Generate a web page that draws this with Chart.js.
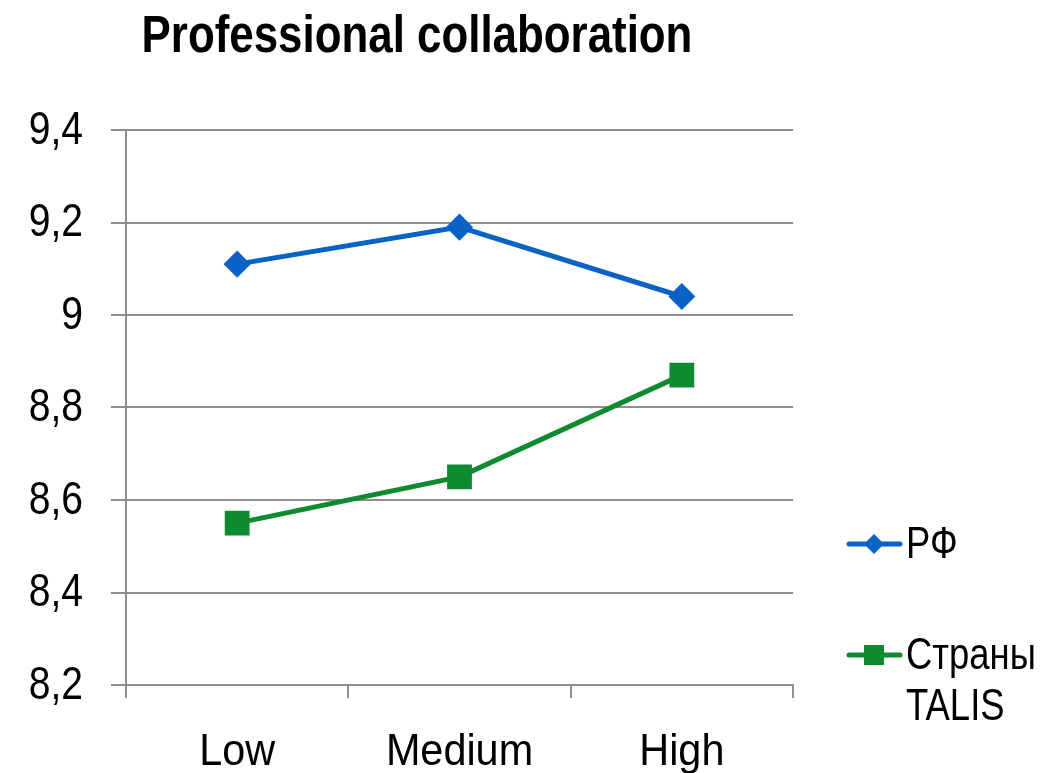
<!DOCTYPE html>
<html>
<head>
<meta charset="utf-8">
<script src="https://cdn.jsdelivr.net/npm/chart.js@4/dist/chart.umd.min.js"></script>
<style>
  html, body { margin: 0; padding: 0; background: #fff; }
  #wrap { width: 1050px; height: 773px; position: relative; }
</style>
</head>
<body>
<div id="wrap"><canvas id="chart" width="1050" height="773"></canvas></div>
<script>
const FONT = '"Liberation Sans", Arial, sans-serif';

const titleText = 'Professional collaboration';
const categories = ['Low', 'Medium', 'High'];
const rfValues = [9.11, 9.19, 9.04];
const talisValues = [8.55, 8.65, 8.87];
const seriesNames = ['РФ', ['Страны', 'TALIS']];

const BLUE = '#0a62c4';
const GREEN = '#0e8a30';
const GRID = '#8e8e8e';

// original uses a narrow face; squeeze Liberation Sans horizontally instead
function narrowText(ctx, text, x, y, sx, align) {
    ctx.save();
    ctx.translate(x, y);
    ctx.scale(sx, 1);
    ctx.textAlign = align;
    ctx.fillText(text, 0, 0);
    ctx.restore();
}

const decorations = {
    id: 'decorations',
    afterDraw(chart) {
        const ctx = chart.ctx;
        ctx.save();
        ctx.fillStyle = '#000';

        // title
        ctx.font = 'bold 51px ' + FONT;
        ctx.textBaseline = 'alphabetic';
        narrowText(ctx, titleText, 417, 52, 0.86, 'center');

        // tick labels, placed with the scales
        const xs = chart.scales.x;
        const ys = chart.scales.y;
        ctx.font = '45px ' + FONT;
        xs.ticks.forEach((t, i) => {
            narrowText(ctx, xs.getLabelForValue(t.value), xs.getPixelForTick(i), 765, 0.92, 'center');
        });
        ctx.font = '46px ' + FONT;
        ctx.textBaseline = 'middle';
        ys.ticks.forEach((t) => {
            const lbl = String(Number(t.value.toFixed(1))).replace('.', ',');
            narrowText(ctx, lbl, 83, ys.getPixelForValue(t.value) + 1, 0.85, 'right');
        });

        // legend
        const rows = [544, 655];
        chart.data.datasets.forEach((ds, i) => {
            const y = rows[i];
            ctx.strokeStyle = ds.borderColor;
            ctx.lineWidth = 5;
            ctx.lineCap = 'round';
            ctx.beginPath();
            ctx.moveTo(849, y);
            ctx.lineTo(900, y);
            ctx.stroke();
            ctx.fillStyle = ds.borderColor;
            ctx.beginPath();
            if (ds.pointStyle === 'rectRot') {
                ctx.moveTo(874, y - 10);
                ctx.lineTo(884, y);
                ctx.lineTo(874, y + 10);
                ctx.lineTo(864, y);
            } else {
                ctx.rect(864, y - 10, 20, 20);
            }
            ctx.fill();
            ctx.fillStyle = '#000';
            ctx.font = '45px ' + FONT;
            ctx.textBaseline = 'middle';
            const lines = Array.isArray(seriesNames[i]) ? seriesNames[i] : [seriesNames[i]];
            lines.forEach((t, j) => narrowText(ctx, t, 906, y + 2 + j * 51, 0.81, 'left'));
        });
        ctx.restore();
    }
};

new Chart(document.getElementById('chart'), {
    type: 'line',
    data: {
        labels: categories,
        datasets: [{
            label: 'РФ',
            data: rfValues,
            borderColor: BLUE,
            backgroundColor: BLUE,
            borderWidth: 5,
            pointStyle: 'rectRot',
            pointRadius: 10,
            pointHoverRadius: 10,
            tension: 0
        }, {
            label: 'Страны TALIS',
            data: talisValues,
            borderColor: GREEN,
            backgroundColor: GREEN,
            borderWidth: 5,
            pointStyle: 'rect',
            pointRadius: 14,
            pointHoverRadius: 14,
            tension: 0
        }]
    },
    options: {
        responsive: false,
        animation: false,
        layout: { padding: { top: 130, right: 257, left: 0, bottom: 0 } },
        plugins: {
            legend: { display: false },
            title: { display: false },
            tooltip: { enabled: false }
        },
        scales: {
            x: {
                offset: true,
                afterFit(scale) { scale.height = 88; },
                grid: {
                    offset: true,
                    drawOnChartArea: false,
                    drawTicks: true,
                    tickLength: 13,
                    color: GRID,
                    lineWidth: 2
                },
                border: { color: GRID, width: 2 },
                ticks: { display: false }
            },
            y: {
                min: 8.2,
                max: 9.4,
                afterFit(scale) { scale.width = 126; },
                grid: {
                    color: GRID,
                    lineWidth: 2,
                    tickLength: 15
                },
                border: { color: GRID, width: 2 },
                ticks: { stepSize: 0.2, display: false }
            }
        }
    },
    plugins: [decorations]
});
</script>
</body>
</html>
